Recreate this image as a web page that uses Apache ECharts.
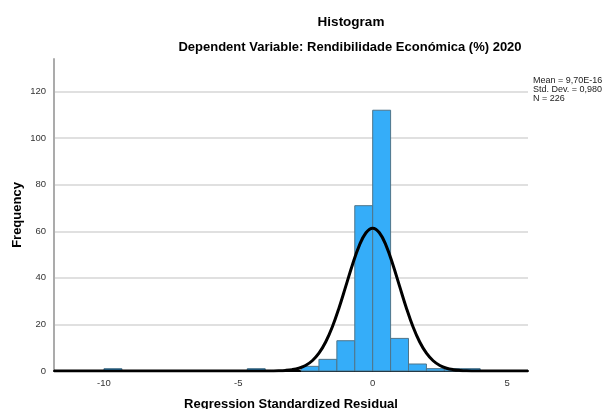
<!DOCTYPE html>
<html>
<head>
<meta charset="utf-8">
<script src="https://cdn.jsdelivr.net/npm/echarts@6/dist/echarts.min.js"></script>
<style>
html,body{margin:0;padding:0;background:#fff;}
#chart{width:603px;height:409px;}
</style>
</head>
<body>
<div id="chart"></div>
<script>
// ---- data ----
const binWidth = 2 / 3;
const binIndex = [-15, -7, -4, -3, -2, -1, 0, 1, 2, 3, 4, 5];      // bin start = index * binWidth
const binCounts = [1, 1, 2, 5, 13, 71, 112, 14, 3, 1, 1, 1];
const curveX = [-11.86, -4, -3.75, -3.5, -3.25, -3, -2.75, -2.5, -2.25, -2, -1.75, -1.5, -1.25, -1, -0.75, -0.5, -0.25,
  0, 0.25, 0.5, 0.75, 1, 1.25, 1.5, 1.75, 2, 2.25, 2.5, 2.75, 3, 3.25, 3.5, 3.75, 4, 5.78];
const curveY = [0, 0.01, 0.04, 0.1, 0.25, 0.57, 1.2, 2.37, 4.4, 7.65, 12.45, 19.0, 27.2, 36.45, 45.77, 53.86, 59.39,
  61.35, 59.39, 53.86, 45.77, 36.45, 27.2, 19.0, 12.45, 7.65, 4.4, 2.37, 1.2, 0.57, 0.25, 0.1, 0.04, 0.01, 0];
const xTickLabels = [-10, -5, 0, 5];
const statsLines = ['Mean = 9,70E-16', 'Std. Dev. = 0,980', 'N = 226'];
const titleText = 'Histogram';
const subtitleText = 'Dependent Variable: Rendibilidade Económica (%) 2020';
const xName = 'Regression Standardized Residual';
const yName = 'Frequency';

const xMin = -11.86, xMax = 5.78;
const yMin = 0, yMax = 134, yInterval = 20;

const bars = binIndex.map((k, i) => [k * binWidth, binCounts[i]]);
const curve = curveX.map((x, i) => [x, curveY[i]]);

const chart = echarts.init(document.getElementById('chart'), null, {renderer: 'canvas'});
const font = 'Liberation Sans, Arial, sans-serif';

chart.setOption({
  animation: false,
  backgroundColor: '#fff',
  grid: {left: 54, right: 75, top: 59, bottom: 38, containLabel: false, outerBoundsMode: 'none'},
  graphic: [
    {type: 'text', x: 351, y: 22, style: {text: titleText, font: 'bold 13.5px ' + font, fill: '#000', textAlign: 'center', textVerticalAlign: 'middle'}},
    {type: 'text', x: 350, y: 47, style: {text: subtitleText, font: 'bold 13px ' + font, fill: '#000', textAlign: 'center', textVerticalAlign: 'middle'}},
    {type: 'text', x: 533, y: 76, style: {text: statsLines.join('\n'), font: '9px ' + font, fill: '#222', lineHeight: 9, textAlign: 'left', textVerticalAlign: 'top'}}
  ],
  xAxis: {
    type: 'value', min: xMin, max: xMax,
    name: xName, nameLocation: 'middle', nameGap: 27, nameMoveOverlap: false,
    nameTextStyle: {fontFamily: font, fontWeight: 'bold', fontSize: 13, color: '#000'},
    axisLine: {show: true, onZero: false, lineStyle: {color: '#000', width: 2}},
    axisTick: {show: false},
    splitLine: {show: false},
    axisLabel: {customValues: xTickLabels, fontFamily: font, fontSize: 9.5, color: '#333', margin: 7}
  },
  yAxis: {
    type: 'value', min: yMin, max: yMax, interval: yInterval,
    name: yName, nameLocation: 'middle', nameGap: 30, nameMoveOverlap: false, nameRotate: 90,
    nameTextStyle: {fontFamily: font, fontWeight: 'bold', fontSize: 13, color: '#000'},
    axisLine: {show: true, onZero: false, lineStyle: {color: '#ababab', width: 2}},
    axisTick: {show: false},
    axisLabel: {showMaxLabel: false, fontFamily: font, fontSize: 9.5, color: '#333', margin: 8},
    splitLine: {show: true, lineStyle: {color: ['transparent', '#d6d6d6', '#d6d6d6', '#d6d6d6', '#d6d6d6', '#d6d6d6', '#d6d6d6', 'transparent'], width: 1.5}}
  },
  series: [
    {
      type: 'custom',
      data: bars,
      z: 2,
      renderItem: function (params, api) {
        const x0 = api.value(0), c = api.value(1);
        const p0 = api.coord([x0, c]);
        const p1 = api.coord([x0 + binWidth, 0]);
        return {
          type: 'rect',
          shape: {x: p0[0], y: p0[1], width: p1[0] - p0[0], height: p1[1] - p0[1]},
          style: {fill: '#35adf9', stroke: '#4f7489', lineWidth: 1}
        };
      }
    },
    {
      type: 'line',
      data: curve,
      z: 3,
      smooth: 0.4,
      showSymbol: false,
      symbol: 'none',
      lineStyle: {color: '#000', width: 3}
    }
  ]
});
</script>
</body>
</html>
